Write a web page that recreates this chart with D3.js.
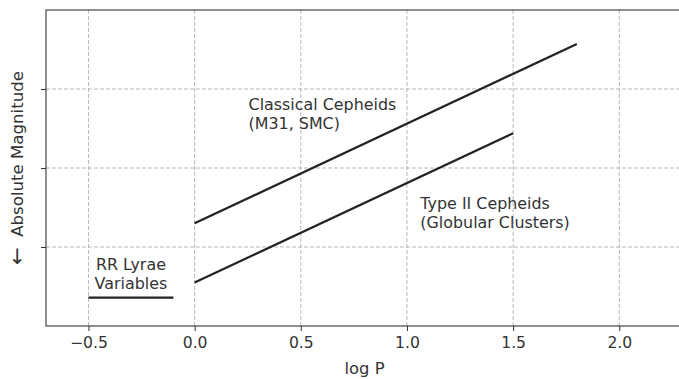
<!DOCTYPE html>
<html>
<head>
<meta charset="utf-8">
<script src="https://cdn.jsdelivr.net/npm/d3@7/dist/d3.min.js"></script>
<style>
    body { margin: 0; background: #fff; }
    svg { display: block; font-family: "DejaVu Sans", sans-serif; }
</style>
</head>
<body>
<div id="chart"></div>
<script>
// period-luminosity relations (log P vs absolute magnitude, axis runs downward)
const classicalLogP = [0.0, 1.8],
    classicalMag = [2.70, 0.43];
const typeIILogP = [0.0, 1.5],
    typeIIMag = [3.45, 1.56];
const rrLyraeLogP = [-0.5, -0.1],
    rrLyraeMag = [3.64, 3.64];

const xTicks = [-0.5, 0.0, 0.5, 1.0, 1.5, 2.0],
    yTicks = [1, 2, 3];

const labelLines = [
    ["Classical Cepheids", "(M31, SMC)"],
    ["Type II Cepheids", "(Globular Clusters)"],
    ["RR Lyrae", "Variables"]
];
const labelLogP = [0.254, 1.063, -0.30],
    labelMag = [1.263, 2.524, 3.296];

const W = 679, H = 379;
const margin = {top: 10, right: -4, bottom: 53, left: 46};

const svg = d3.select("#chart").append("svg")
    .attr("width", W)
    .attr("height", H);

const x = d3.scaleLinear().domain([-0.7, 2.3]).range([margin.left, W - margin.right]);
const y = d3.scaleLinear().domain([0, 4]).range([margin.top, H - margin.bottom]);

const ink = "#333";

// grid
svg.append("g")
    .selectAll("line.vx")
    .data(xTicks)
    .enter().append("line")
    .attr("x1", d => x(d)).attr("x2", d => x(d))
    .attr("y1", y(0)).attr("y2", y(4))
    .attr("stroke", "#b0b0b0")
    .attr("stroke-width", 0.9)
    .attr("stroke-dasharray", "4,2");

svg.append("g")
    .selectAll("line.hy")
    .data(yTicks)
    .enter().append("line")
    .attr("x1", x(-0.7)).attr("x2", x(2.3))
    .attr("y1", d => y(d)).attr("y2", d => y(d))
    .attr("stroke", "#b0b0b0")
    .attr("stroke-width", 0.9)
    .attr("stroke-dasharray", "4,2");

// axes
const xAxis = svg.append("g")
    .attr("transform", "translate(0," + y(4) + ")")
    .call(d3.axisBottom(x).tickValues(xTicks).tickSize(5).tickPadding(6)
        .tickFormat(d => d3.format(".1f")(d).replace("-", "\u2212")));
xAxis.select(".domain").remove();
xAxis.selectAll("line").attr("stroke", ink);
xAxis.selectAll("text")
    .attr("fill", ink)
    .attr("font-size", "15.6px")
    .attr("font-family", "DejaVu Sans");

const yAxis = svg.append("g")
    .attr("transform", "translate(" + x(-0.7) + ",0)")
    .call(d3.axisLeft(y).tickValues(yTicks).tickSize(5).tickFormat(""));
yAxis.select(".domain").remove();
yAxis.selectAll("line").attr("stroke", ink);

// frame
svg.append("rect")
    .attr("x", x(-0.7))
    .attr("y", y(0))
    .attr("width", x(2.3) - x(-0.7))
    .attr("height", y(4) - y(0))
    .attr("fill", "none")
    .attr("stroke", ink)
    .attr("stroke-width", 1.1);

// relations
const line = d3.line().x(d => x(d[0])).y(d => y(d[1]));
[
    [classicalLogP, classicalMag],
    [typeIILogP, typeIIMag],
    [rrLyraeLogP, rrLyraeMag]
].forEach(s => {
    svg.append("path")
        .attr("d", line(d3.zip(s[0], s[1])))
        .attr("fill", "none")
        .attr("stroke", "#222")
        .attr("stroke-width", 2.2);
});

// annotations
labelLines.forEach((lines, i) => {
    const t = svg.append("text")
        .attr("x", x(labelLogP[i]))
        .attr("y", y(labelMag[i]))
        .attr("fill", ink)
        .attr("font-size", "15.9px")
        .attr("text-anchor", i === 2 ? "middle" : "start");
    lines.forEach((s, j) => {
        t.append("tspan")
            .attr("x", x(labelLogP[i]))
            .attr("dy", j === 0 ? 0 : 18.8)
            .text(s);
    });
});

// axis titles
svg.append("text")
    .attr("x", x(0.8))
    .attr("y", 373.5)
    .attr("text-anchor", "middle")
    .attr("fill", ink)
    .attr("font-size", "16.4px")
    .text("log P");

const yTitle = svg.append("text")
    .attr("transform", "translate(23," + ((y(0) + y(4)) / 2) + ") rotate(-90)")
    .attr("text-anchor", "middle")
    .attr("fill", ink)
    .attr("font-size", "16.6px")
    .style("white-space", "pre");
yTitle.append("tspan")
    .attr("font-size", "21px")
    .attr("dy", "1")
    .text("\u2190");
yTitle.append("tspan")
    .attr("dy", "-1")
    .text("  Absolute Magnitude");
</script>
</body>
</html>
